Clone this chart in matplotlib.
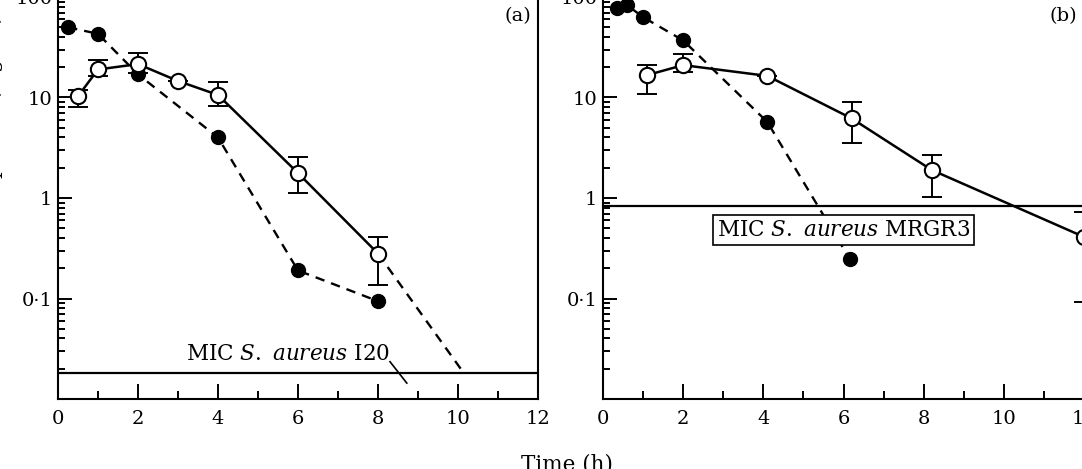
import numpy as np
import matplotlib
matplotlib.use("Agg")
import matplotlib.pyplot as plt
from matplotlib.ticker import FixedLocator, LogLocator, NullFormatter

plt.rcParams['font.family'] = 'DejaVu Serif'
plt.rcParams['mathtext.fontset'] = 'dejavuserif'

# panel (a): serum (filled, dashed) and tissue (open, solid) concentrations
a_filled_t = [0.25, 1, 2, 4, 6, 8]
a_filled_c = [50, 43, 17, 4.0, 0.19, 0.094]
a_open_t = [0.5, 1, 2, 3, 4, 6, 8]
a_open_c = [10.3, 19, 21.5, 14.6, 10.6, 1.77, 0.28]
a_open_lo = [8.0, 16.4, 17.5, 14.6, 8.2, 1.12, 0.136]
a_open_hi = [12.0, 23.6, 27.7, 14.6, 14.3, 2.56, 0.41]
a_extrap_t = [8, 10.15]
a_extrap_c = [0.28, 0.018]
a_mic = 0.018
a_pointer_t = [8.3, 8.72]
a_pointer_c = [0.0235, 0.0144]

# panel (b)
b_filled_t = [0.35, 0.6, 1, 2, 4.1, 6.15]
b_filled_c = [77, 83, 63, 37, 5.7, 0.25]
b_open_t = [1.1, 2, 4.1, 6.2, 8.2, 12]
b_open_c = [16.7, 21, 16.4, 6.2, 1.9, 0.41]
b_open_lo = [10.8, 18, 16.4, 3.5, 1.02, 0.092]
b_open_hi = [21, 27, 16.4, 9.0, 2.68, 0.73]
b_mic = 0.83

xticks = [0, 2, 4, 6, 8, 10, 12]
yticks = [0.1, 1, 10, 100]
ytick_labels = ['0\u00b71', '1', '10', '100']

fig = plt.figure(figsize=(10.82, 4.69), dpi=100)
ax_a = fig.add_axes([58 / 1082, 1 - 399 / 469, 480 / 1082, 402 / 469])
ax_b = fig.add_axes([603 / 1082, 1 - 399 / 469, 481 / 1082, 402 / 469])


def style(ax):
    ax.set_yscale('log')
    ax.set_xlim(0, 12)
    ax.set_ylim(0.01, 100)
    ax.set_xticks(xticks)
    ax.set_xticklabels([str(t) for t in xticks])
    ax.xaxis.set_minor_locator(FixedLocator([1, 3, 5, 7, 9, 11]))
    ax.yaxis.set_major_locator(FixedLocator(yticks))
    ax.set_yticklabels(ytick_labels)
    ax.yaxis.set_minor_locator(LogLocator(base=10, subs=np.arange(2, 10)))
    ax.yaxis.set_minor_formatter(NullFormatter())
    ax.tick_params(axis='both', which='both', direction='in', top=False, right=False,
                   labelsize=14, width=1.4)
    ax.tick_params(axis='x', which='major', length=11, pad=8)
    ax.tick_params(axis='x', which='minor', length=6)
    ax.tick_params(axis='y', which='major', length=10, pad=4)
    ax.tick_params(axis='y', which='minor', length=5)
    for s in ax.spines.values():
        s.set_linewidth(1.5)


def draw(ax, ft, fc, ot, oc, lo, hi):
    ax.plot(ft, fc, ls=(0, (4, 3)), color='black', lw=1.7, marker='o', ms=10,
            mfc='black', mec='black', zorder=3)
    err = [np.array(oc) - np.array(lo), np.array(hi) - np.array(oc)]
    ax.errorbar(ot, oc, yerr=err, fmt='none', ecolor='black', elinewidth=1.4,
                capsize=7, capthick=1.4, zorder=2)
    ax.plot(ot, oc, ls='-', color='black', lw=1.8, marker='o', ms=11,
            mfc='white', mec='black', mew=1.5, zorder=4)


style(ax_a)
draw(ax_a, a_filled_t, a_filled_c, a_open_t, a_open_c, a_open_lo, a_open_hi)
ax_a.plot(a_extrap_t, a_extrap_c, ls=(0, (4, 3)), color='black', lw=1.7, zorder=3)
ax_a.axhline(a_mic, color='black', lw=1.6, zorder=1)
ax_a.plot(a_pointer_t, a_pointer_c, color='black', lw=1.2)
ax_a.text(5.75, 0.028, r'MIC $\mathit{S.\ aureus}$ I20', fontsize=15.5,
          ha='center', va='center')
ax_a.text(0.985, 0.975, '(a)', transform=ax_a.transAxes, ha='right', va='top',
          fontsize=14)

style(ax_b)
draw(ax_b, b_filled_t, b_filled_c, b_open_t, b_open_c, b_open_lo, b_open_hi)
ax_b.axhline(b_mic, color='black', lw=1.6, zorder=1)
ax_b.text(6.0, 0.48, r'MIC $\mathit{S.\ aureus}$ MRGR3', fontsize=15.5,
          ha='center', va='center', zorder=6,
          bbox=dict(boxstyle='square,pad=0.2', fc='white', ec='black', lw=1.2))
ax_b.text(0.985, 0.975, '(b)', transform=ax_b.transAxes, ha='right', va='top',
          fontsize=14)

fig.text(567 / 1082, 1 - 464 / 469, 'Time (h)', ha='center', va='center', fontsize=15.5)
fig.text(-7 / 1082, 1 - 205 / 469, r'Concentration of ampicillin (mg l$^{-1}$)',
         rotation=90, ha='center', va='center', fontsize=15)

fig.savefig('out.png', dpi=100)
